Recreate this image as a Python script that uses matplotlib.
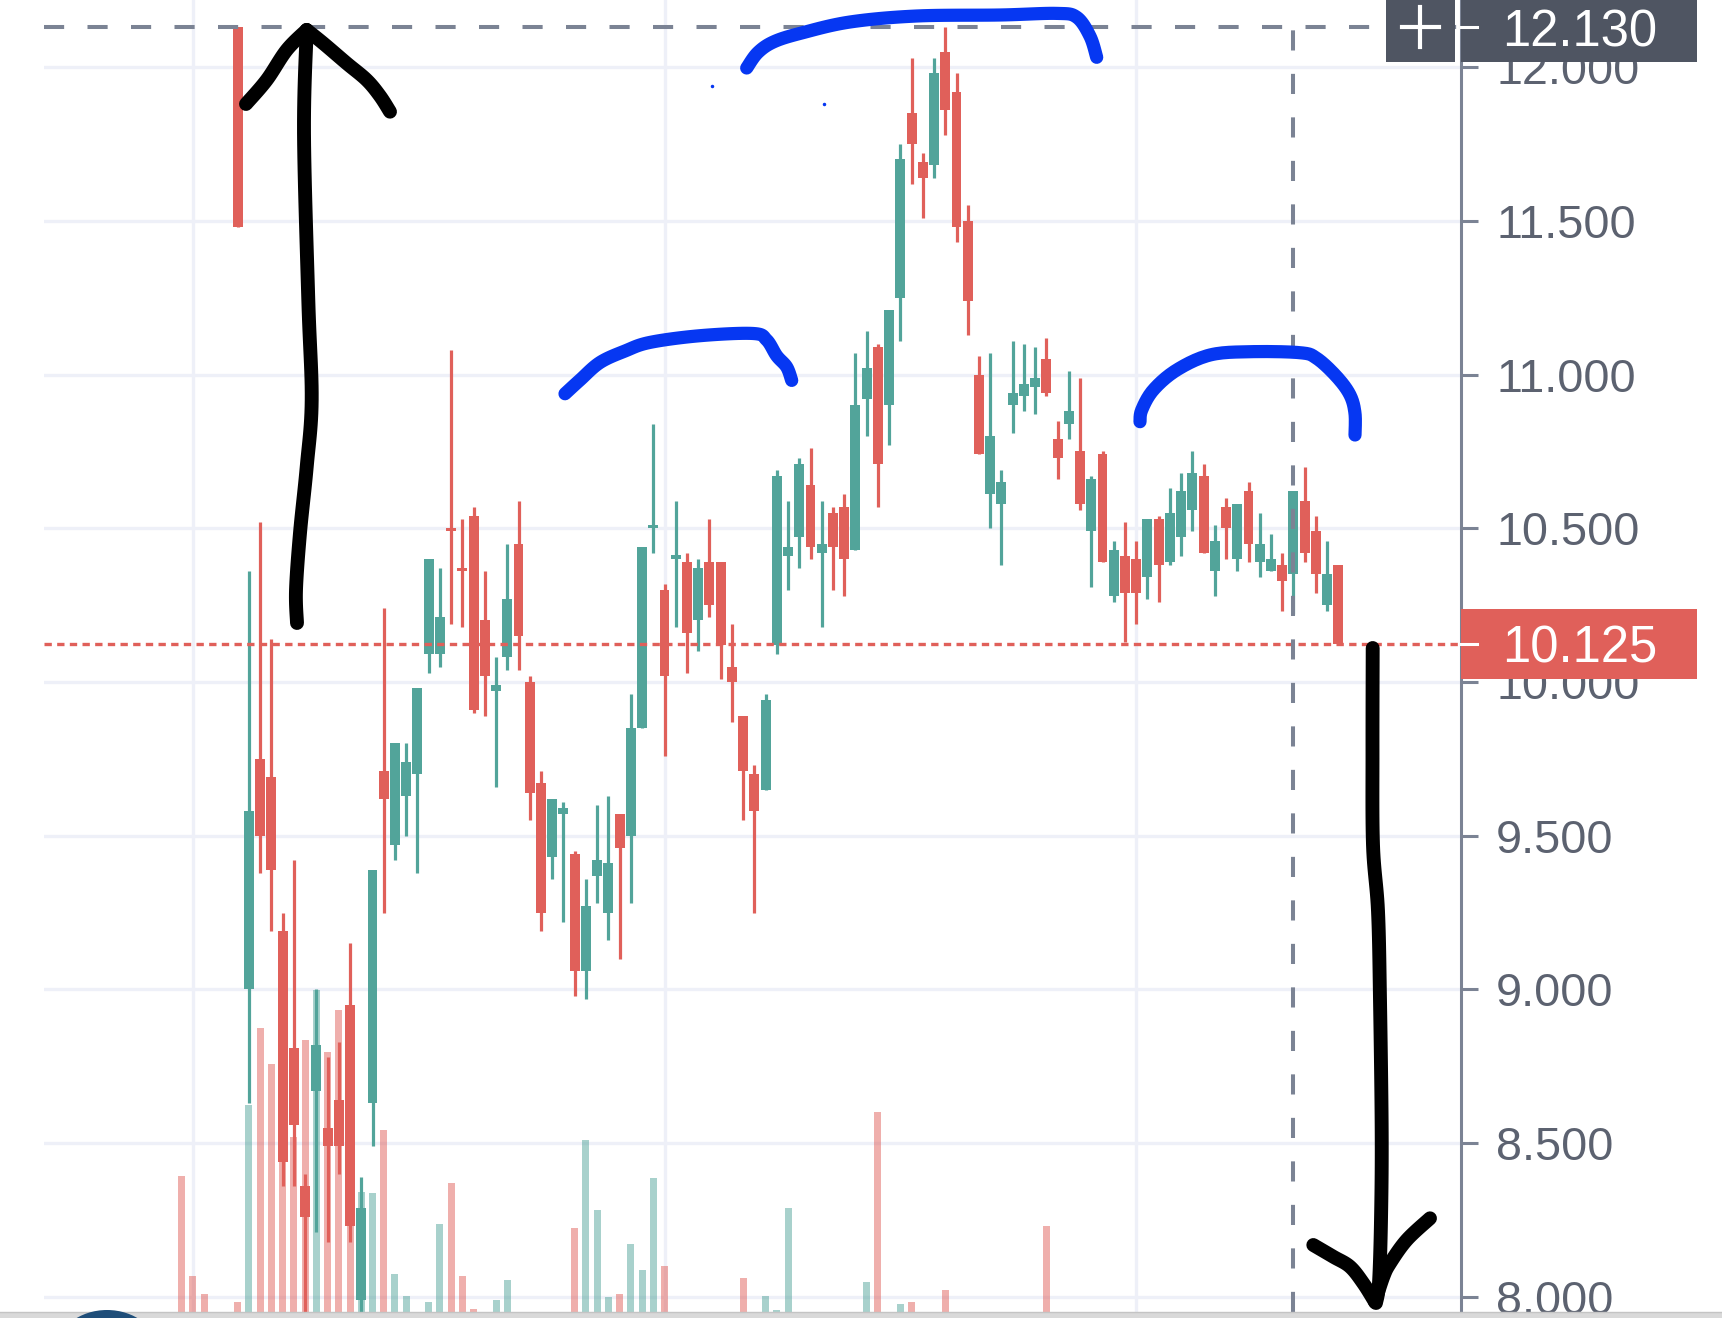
import numpy as np
import matplotlib
matplotlib.use("Agg")
import matplotlib.pyplot as plt
from matplotlib.patches import Rectangle, Ellipse
from matplotlib.ticker import FormatStrFormatter

plt.rcParams['font.family'] = ['Liberation Sans', 'DejaVu Sans']

# daily candles (bar 0 = first visible candle)
opens = [12.13, 9.00, 9.75, 9.69, 9.19, 8.81, 8.36, 8.67, 8.55, 8.64,
         8.95, 7.99, 8.63, 9.71, 9.47, 9.63, 9.70, 10.09, 10.09, 10.50,
         10.37, 10.54, 10.20, 9.97, 10.08, 10.45, 10.00, 9.67, 9.43, 9.57,
         9.44, 9.06, 9.37, 9.25, 9.57, 9.50, 9.85, 10.50, 10.30, 10.40,
         10.39, 10.20, 10.39, 10.39, 10.05, 9.89, 9.70, 9.65, 10.12, 10.41,
         10.47, 10.64, 10.42, 10.55, 10.57, 10.43, 10.92, 11.09, 10.90, 11.25,
         11.85, 11.69, 11.68, 12.05, 11.92, 11.50, 11.00, 10.61, 10.58, 10.90,
         10.93, 10.96, 11.05, 10.79, 10.84, 10.75, 10.49, 10.74, 10.28, 10.41,
         10.40, 10.34, 10.53, 10.39, 10.47, 10.56, 10.67, 10.36, 10.57, 10.40,
         10.62, 10.39, 10.36, 10.38, 10.35, 10.59, 10.49, 10.25, 10.38]
highs = [12.13, 10.36, 10.52, 10.14, 9.25, 9.42, 8.40, 9.00, 8.78, 8.83,
         9.15, 8.39, 9.39, 10.24, 9.80, 9.80, 9.98, 10.40, 10.37, 11.08,
         10.53, 10.57, 10.36, 10.08, 10.45, 10.59, 10.02, 9.71, 9.62, 9.61,
         9.45, 9.36, 9.60, 9.63, 9.57, 9.96, 10.44, 10.84, 10.32, 10.59,
         10.42, 10.40, 10.53, 10.39, 10.19, 9.89, 9.73, 9.96, 10.69, 10.59,
         10.73, 10.76, 10.59, 10.57, 10.61, 11.07, 11.14, 11.10, 11.21, 11.75,
         12.03, 11.72, 12.03, 12.13, 11.98, 11.55, 11.06, 11.07, 10.69, 11.11,
         11.10, 11.09, 11.12, 10.85, 11.01, 10.99, 10.67, 10.75, 10.46, 10.52,
         10.46, 10.53, 10.54, 10.63, 10.68, 10.75, 10.71, 10.51, 10.60, 10.58,
         10.65, 10.55, 10.48, 10.42, 10.62, 10.70, 10.54, 10.46, 10.38]
lows = [11.48, 8.63, 9.38, 9.19, 8.36, 8.36, 7.95, 8.21, 8.18, 8.40,
        8.18, 7.95, 8.49, 9.25, 9.42, 9.50, 9.38, 10.03, 10.05, 10.19,
        10.18, 9.90, 9.89, 9.66, 10.04, 10.04, 9.55, 9.19, 9.36, 9.22,
        8.98, 8.97, 9.28, 9.16, 9.10, 9.28, 9.85, 10.42, 9.76, 10.18,
        10.03, 10.10, 10.21, 10.01, 9.87, 9.55, 9.25, 9.65, 10.09, 10.30,
        10.37, 10.40, 10.18, 10.30, 10.28, 10.43, 10.80, 10.57, 10.77, 11.11,
        11.62, 11.51, 11.64, 11.78, 11.43, 11.13, 10.74, 10.50, 10.38, 10.81,
        10.88, 10.87, 10.93, 10.66, 10.79, 10.56, 10.31, 10.39, 10.26, 10.13,
        10.19, 10.27, 10.26, 10.38, 10.41, 10.49, 10.42, 10.28, 10.40, 10.36,
        10.39, 10.34, 10.36, 10.23, 10.22, 10.39, 10.29, 10.23, 10.12]
closes = [11.48, 9.58, 9.50, 9.39, 8.44, 8.56, 8.26, 8.82, 8.49, 8.49,
          8.23, 8.29, 9.39, 9.62, 9.80, 9.74, 9.98, 10.40, 10.21, 10.49,
          10.36, 9.91, 10.02, 9.99, 10.27, 10.15, 9.64, 9.25, 9.62, 9.59,
          9.06, 9.27, 9.42, 9.41, 9.46, 9.85, 10.44, 10.51, 10.02, 10.41,
          10.16, 10.37, 10.25, 10.12, 10.00, 9.71, 9.58, 9.94, 10.67, 10.44,
          10.71, 10.44, 10.45, 10.44, 10.40, 10.90, 11.02, 10.71, 11.21, 11.70,
          11.75, 11.64, 11.98, 11.86, 11.48, 11.24, 10.74, 10.80, 10.65, 10.94,
          10.97, 10.99, 10.94, 10.73, 10.88, 10.58, 10.66, 10.39, 10.43, 10.29,
          10.29, 10.53, 10.38, 10.55, 10.62, 10.68, 10.42, 10.46, 10.50, 10.58,
          10.45, 10.45, 10.40, 10.33, 10.62, 10.42, 10.35, 10.35, 10.125]

# volume bars (bar index, volume, rising day)
vol_x = [-5, -4, -3, 0, 1, 2, 3, 4, 5, 6, 7, 8, 9, 10, 11, 12, 13, 14, 15,
         17, 18, 19, 20, 21, 23, 24, 30, 31, 32, 33, 34, 35, 36, 37, 38,
         45, 47, 48, 49, 56, 57, 59, 60, 63, 72]
vol_values = [136, 36, 18, 10, 207, 284, 248, 180, 175, 272, 322, 260, 302, 230,
              120, 119, 182, 38, 16, 10, 88, 129, 36, 3, 12, 32, 84, 172, 102,
              15, 18, 68, 42, 134, 46, 34, 16, 2, 104, 30, 200, 8, 10, 22, 86]
vol_up = [False, False, False, False, True, False, False, False, False, False,
          True, False, False, False, True, True, False, True, True, True, True,
          False, False, False, True, True, False, True, True, True, False,
          True, True, True, False, False, True, True, True, True, False,
          True, False, False, False]
vol_max = 1312

price_ticks = [8.0, 8.5, 9.0, 9.5, 10.0, 10.5, 11.0, 11.5, 12.0]
grid_bars = [-4, 38, 80]
last_price = 10.125
cross_price = 12.130
cross_bar = 94

RED = '#e0605a'
GREEN = '#52a49a'
GRID = '#eef0f8'
AXIS = '#7b8394'
LABEL = '#5c6270'
BOX = '#4f5562'
BLUE = '#0637f2'

W, H = 1722, 1318
fig = plt.figure(figsize=(W / 100, H / 100), dpi=100)
ax = fig.add_axes([44 / W, 6 / H, 1417 / W, 1312 / H])
y_lo, y_hi = 7.9512, 12.2179
ax.set_ylim(y_lo, y_hi)
ax.set_xlim(-17.25, 108.92)
ax.set_axisbelow(True)

o = np.array(opens)
hi = np.array(highs)
lo = np.array(lows)
c = np.array(closes)
idx = np.arange(len(o))
colors = np.where(c >= o, GREEN, RED)

# volume, scaled to the lower part of the panel
vol_scale = (y_hi - y_lo) / vol_max
vcol = [GREEN if u else RED for u in vol_up]
ax.bar(vol_x, np.array(vol_values) * vol_scale, bottom=y_lo, width=0.62,
       color=vcol, alpha=0.5, linewidth=0, zorder=1)

# candles
ax.vlines(idx, lo, hi, colors=colors, lw=2.3, zorder=3)
body_lo = np.minimum(o, c)
body_h = np.maximum(np.abs(c - o), 0.012)
ax.bar(idx, body_h, bottom=body_lo, width=0.88, color=colors, linewidth=0, zorder=4)

# grid + right price axis
ax.set_yticks(price_ticks)
ax.set_xticks(grid_bars)
ax.grid(True, color=GRID, lw=2.4)
ax.tick_params(axis='x', length=0, labelbottom=False)
ax.yaxis.tick_right()
ax.yaxis.set_major_formatter(FormatStrFormatter('%.3f'))
ax.tick_params(axis='y', direction='out', length=12.2, width=2.2, color=AXIS,
               pad=13, labelsize=33.7, labelcolor=LABEL)
for s in ['top', 'left', 'bottom']:
    ax.spines[s].set_visible(False)
ax.spines['right'].set_color(AXIS)
ax.spines['right'].set_linewidth(2.2)

# last price and crosshair
ax.axhline(last_price, color=RED, lw=2.4, dashes=(2.2, 1.6), zorder=5)
ax.axhline(cross_price, color=AXIS, lw=2.9, dashes=(5, 5.8), zorder=5)
ax.vlines(cross_bar, y_lo, cross_price, colors=AXIS, lw=2.9,
          linestyles=(0, (5, 5.8)), zorder=5)

yt = ax.get_yaxis_transform()
half = 35 / 307.5
box_w = 236 / 1417
for price, col in [(cross_price, BOX), (last_price, RED)]:
    ax.add_patch(Rectangle((1.0, price - half), box_w, 2 * half, transform=yt,
                           facecolor=col, edgecolor='none', clip_on=False, zorder=10))
    ax.plot([1.0, 1.0 + 16 / 1417], [price, price], transform=yt, color='white',
            lw=2.2, clip_on=False, zorder=11)
    ax.text(1.0 + 41 / 1417, price, f'{price:.3f}', transform=yt, color='white',
            fontsize=36.5, ha='left', va='center_baseline', zorder=12, clip_on=False)

# "+" button left of the crosshair label
px0 = (1386 - 44) / 1417
pw = (1455 - 1386) / 1417
ax.add_patch(Rectangle((px0, cross_price - half), pw, 2 * half, transform=yt,
                       facecolor=BOX, edgecolor='none', clip_on=False, zorder=10))
pc = (1420 - 44) / 1417
ax.plot([pc - 18.5 / 1417, pc + 18.5 / 1417], [cross_price, cross_price],
        transform=yt, color='white', lw=3, clip_on=False, zorder=11)
ax.plot([pc, pc], [cross_price - 20 / 307.5, cross_price + 20 / 307.5],
        transform=yt, color='white', lw=3, clip_on=False, zorder=11)


# hand-drawn marks on top, in pixel coordinates
def smooth(pts, n=12):
    pts = np.asarray(pts, float)
    p = np.vstack([pts[0], pts, pts[-1]])
    out = []
    for k in range(1, len(p) - 2):
        p0, p1, p2, p3 = p[k - 1], p[k], p[k + 1], p[k + 2]
        t = np.linspace(0, 1, n, endpoint=False)[:, None]
        seg = 0.5 * (2 * p1 + (-p0 + p2) * t + (2 * p0 - 5 * p1 + 4 * p2 - p3) * t ** 2
                     + (-p0 + 3 * p1 - 3 * p2 + p3) * t ** 3)
        out.append(seg)
    out.append(pts[-1:])
    return np.vstack(out)


ov = fig.add_axes([0, 0, 1, 1])
ov.set_xlim(0, W)
ov.set_ylim(H, 0)
ov.axis('off')
ov.patch.set_alpha(0)

strokes = [
    ('k', 10, [(297, 623), (296, 590), (300, 533), (306.7, 467), (311.7, 400),
               (308.3, 300), (304, 133), (306.7, 30)]),
    ('k', 10, [(246, 104), (266.7, 80), (286.7, 50), (306.7, 30)]),
    ('k', 10, [(306.7, 30), (323.3, 43.3), (346.7, 63.3), (366.7, 80), (380, 96), (390, 111.7)]),
    ('k', 10, [(1372.7, 648), (1372.5, 750), (1373, 845), (1378, 911), (1380, 1000),
               (1381.7, 1133), (1381, 1220), (1379, 1283), (1376, 1303)]),
    ('k', 10, [(1313.3, 1245), (1333.3, 1256.7), (1350, 1266.7), (1363.3, 1283.3), (1375, 1302)]),
    ('k', 10, [(1375, 1302), (1383.3, 1276.7), (1390, 1263.3), (1406.7, 1240), (1430, 1218.3)]),
    (BLUE, 9.5, [(565, 393.75), (580, 380), (600, 362.5), (625, 351), (650, 342.4),
                 (700, 335.7), (753.3, 333.5), (766.7, 340), (776.7, 355.8),
                 (786.7, 367), (791.7, 380.4)]),
    (BLUE, 9.5, [(746.7, 68), (757.7, 52.7), (774, 41.7), (801.6, 33), (850, 22),
                 (916.7, 16), (1000, 15), (1056.7, 13.4), (1076.7, 17.2),
                 (1090, 36.3), (1096.7, 57.3)]),
    (BLUE, 9.5, [(1140, 421.7), (1141.7, 410), (1153.3, 390), (1176.7, 370), (1210, 355),
                 (1250, 351.7), (1300, 352.7), (1316.7, 358.3), (1336.7, 376.7),
                 (1350, 395), (1355, 413.3), (1355, 435)]),
]
for col, lw, pts in strokes:
    xy = smooth(pts)
    ov.plot(xy[:, 0], xy[:, 1], color=col, lw=lw, solid_capstyle='round',
            solid_joinstyle='round', zorder=20)
ov.plot([711.5, 823.5], [85.6, 104.3], 'o', color=BLUE, ms=1.5, zorder=20)

# bottom bar of the app
ov.add_patch(Rectangle((0, 1312), W, 6, facecolor='#d9d9d9', edgecolor='none', zorder=30))
ov.plot([0, W], [1312, 1312], color='#c4c4c4', lw=1, zorder=31)
ov.add_patch(Ellipse((107, 1350), 101, 80, facecolor='#1f4e79', edgecolor='none', zorder=32))

fig.savefig('out.png', dpi=100)
